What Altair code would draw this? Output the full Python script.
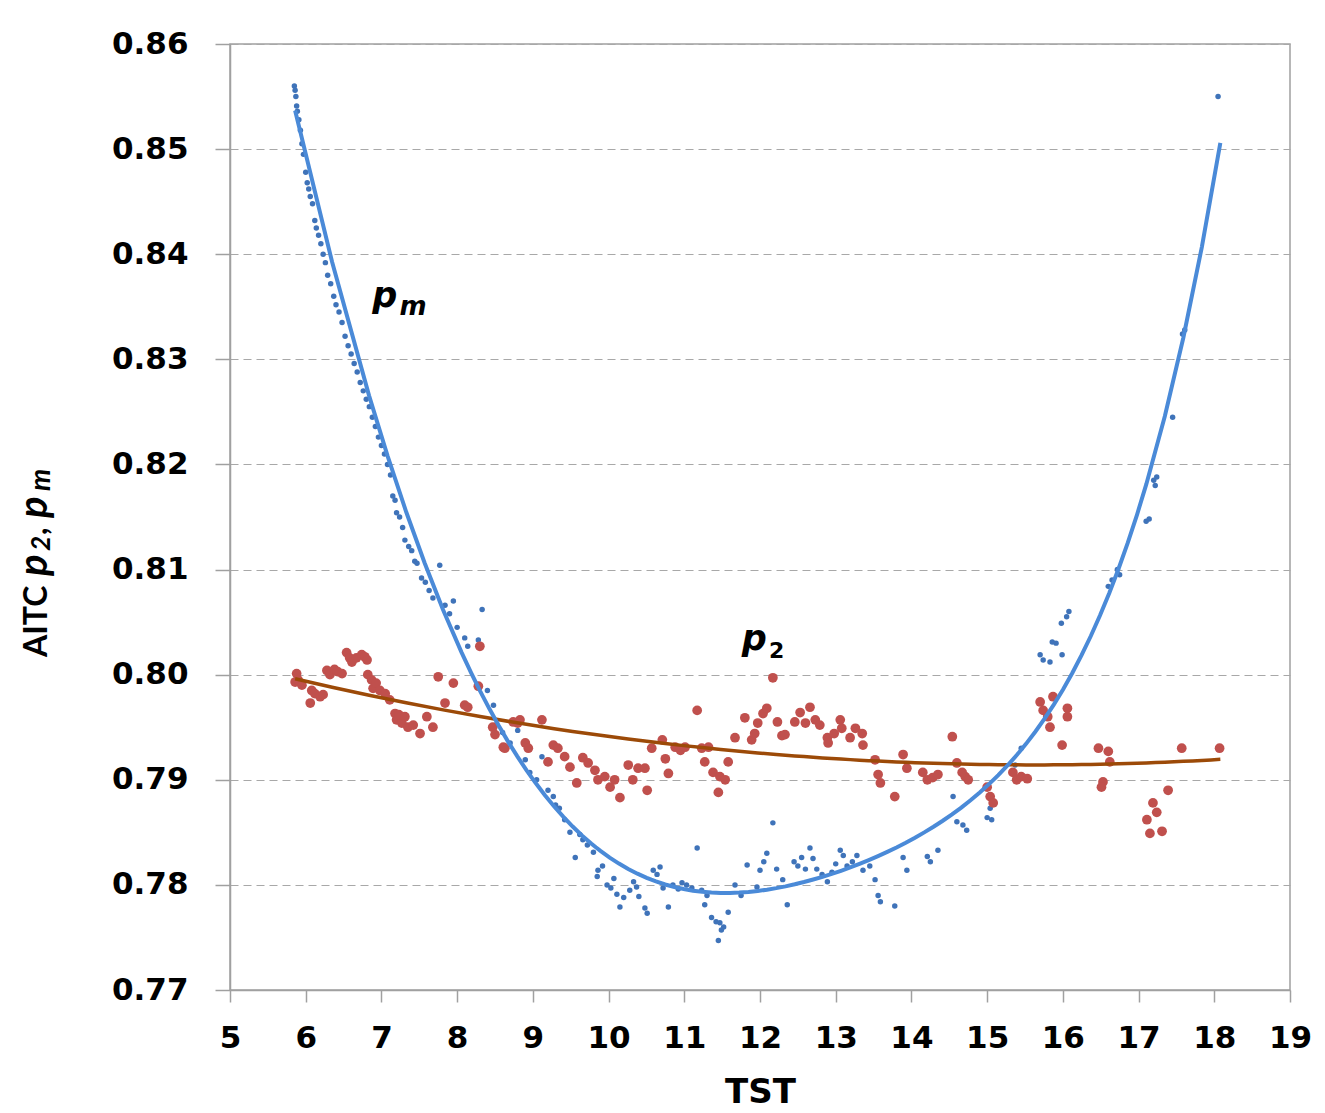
import altair as alt
import pandas as pd

# ---- p_m (AITC) scatter ----
pm_x = [5.85, 5.86, 5.87, 5.88, 5.89, 5.91, 5.93, 5.95, 5.97, 6.00, 6.02, 6.04, 6.06, 6.09, 6.12, 6.14,
        6.17, 6.20, 6.23, 6.26, 6.29, 6.33, 6.37, 6.40, 6.44, 6.48, 6.52, 6.56, 6.60, 6.64, 6.68, 6.72,
        6.76, 6.80, 6.84, 6.88, 6.92, 6.96, 7.00, 7.04, 7.08, 7.12, 7.15, 7.18, 7.20, 7.24, 7.28, 7.31,
        7.36, 7.40, 7.44, 7.47, 7.53, 7.58, 7.63, 7.68, 7.77, 7.84, 7.95, 7.90, 8.00, 8.10, 8.14, 8.28,
        8.33, 8.40, 8.48, 8.50, 8.60, 8.70, 8.80, 8.90, 8.96, 9.05, 9.12, 9.20, 9.27, 9.30, 9.35, 9.42,
        9.49, 9.56, 9.62, 9.66, 9.72, 9.80, 9.86, 9.85, 9.92, 9.98, 10.03, 10.07, 10.11, 10.15, 10.20,
        10.28, 10.33, 10.37, 10.40, 10.48, 10.51, 10.59, 10.64, 10.68, 10.72, 10.79, 10.85, 10.92, 10.97,
        11.03, 11.10, 11.17, 11.23, 11.27, 11.30, 11.36, 11.42, 11.47, 11.49, 11.45, 11.52, 11.58, 11.67,
        11.75, 11.83, 11.96, 12.00, 12.05, 12.09, 12.17, 12.22, 12.30, 12.36, 12.45, 12.50, 12.55, 12.60,
        12.66, 12.70, 12.75, 12.82, 12.89, 12.95, 13.00, 13.06, 13.10, 13.15, 13.22, 13.28, 13.36, 13.45,
        13.52, 13.56, 13.59, 13.78, 13.89, 13.94, 14.21, 14.25, 14.35, 14.55, 14.60, 14.68, 14.73, 15.00,
        15.04, 15.06, 15.37, 15.45, 15.70, 15.74, 15.83, 15.86, 15.99, 15.91, 15.98, 16.05, 16.08, 16.60,
        16.65, 16.72, 16.75, 17.10, 17.14, 17.20, 17.24, 17.22, 17.45, 17.58, 17.61, 18.05]
pm_y = [0.8560, 0.8556, 0.8550, 0.8541, 0.8536, 0.8528, 0.8518, 0.8505, 0.8495, 0.8478, 0.8468, 0.8462,
        0.8455, 0.8448, 0.8432, 0.8425, 0.8418, 0.8410, 0.8400, 0.8392, 0.8380, 0.8372, 0.8360, 0.8352,
        0.8345, 0.8335, 0.8322, 0.8313, 0.8305, 0.8296, 0.8288, 0.8278, 0.8270, 0.8262, 0.8255, 0.8245,
        0.8236, 0.8226, 0.8218, 0.8210, 0.8200, 0.8190, 0.8170, 0.8166, 0.8154, 0.8150, 0.8140, 0.8128,
        0.8122, 0.8118, 0.8108, 0.8106, 0.8092, 0.8088, 0.8080, 0.8073, 0.8104, 0.8066, 0.8070, 0.8058,
        0.8045, 0.8035, 0.8027, 0.8033, 0.8062, 0.7985, 0.7971, 0.7952, 0.7945, 0.7935, 0.7947, 0.7919,
        0.7907, 0.7900, 0.7922, 0.7890, 0.7884, 0.7876, 0.7873, 0.7862, 0.7850, 0.7826, 0.7848, 0.7843,
        0.7838, 0.7831, 0.7814, 0.7808, 0.7818, 0.7800, 0.7797, 0.7806, 0.7791, 0.7779, 0.7788, 0.7795,
        0.7803, 0.7798, 0.7789, 0.7778, 0.7773, 0.7814, 0.7810, 0.7817, 0.7797, 0.7779, 0.7800, 0.7796,
        0.7802, 0.7800, 0.7797, 0.7835, 0.7795, 0.7781, 0.7790, 0.7769, 0.7765, 0.7764, 0.7757, 0.7747,
        0.7760, 0.7774, 0.7800, 0.7790, 0.7819, 0.7798, 0.7814, 0.7822, 0.7830, 0.7859, 0.7815, 0.7805,
        0.7781, 0.7822, 0.7818, 0.7826, 0.7815, 0.7835, 0.7825, 0.7815, 0.7810, 0.7803, 0.7812, 0.7820,
        0.7833, 0.7828, 0.7818, 0.7822, 0.7828, 0.7814, 0.7818, 0.7805, 0.7790, 0.7784, 0.7780, 0.7826,
        0.7814, 0.7827, 0.7822, 0.7833, 0.7884, 0.7860, 0.7857, 0.7852, 0.7864, 0.7873, 0.7862, 0.7914,
        0.7930, 0.8019, 0.8014, 0.8012, 0.8031, 0.8019, 0.8030, 0.8049, 0.8055, 0.8060, 0.8084, 0.8090,
        0.8100, 0.8095, 0.8146, 0.8148, 0.8185, 0.8188, 0.8180, 0.8245, 0.8324, 0.8328, 0.8550]

# ---- p_2 scatter ----
p2_x = [5.86, 5.88, 5.90, 5.95, 6.06, 6.08, 6.12, 6.19, 6.23, 6.28, 6.32, 6.38, 6.42, 6.48, 6.54, 6.58,
        6.61, 6.67, 6.74, 6.78, 6.81, 6.82, 6.87, 6.89, 6.93, 6.98, 7.05, 7.11, 7.18, 7.20, 7.23, 7.27,
        7.31, 7.35, 7.42, 7.51, 7.60, 7.68, 7.75, 7.84, 7.95, 8.10, 8.14, 8.28, 8.30, 8.47, 8.50, 8.61,
        8.63, 8.74, 8.80, 8.83, 8.90, 8.94, 9.12, 9.20, 9.27, 9.33, 9.42, 9.49, 9.58, 9.66, 9.73, 9.82,
        9.86, 9.95, 10.02, 10.08, 10.15, 10.26, 10.32, 10.39, 10.48, 10.51, 10.57, 10.71, 10.75, 10.79,
        10.88, 10.95, 11.01, 11.17, 11.23, 11.27, 11.32, 11.38, 11.47, 11.45, 11.54, 11.58, 11.67, 11.80,
        11.89, 11.93, 11.97, 12.04, 12.09, 12.17, 12.23, 12.29, 12.33, 12.46, 12.53, 12.60, 12.66, 12.73,
        12.79, 12.89, 12.90, 12.98, 13.06, 13.08, 13.19, 13.26, 13.35, 13.36, 13.52, 13.56, 13.59, 13.78,
        13.89, 13.94, 14.15, 14.21, 14.28, 14.35, 14.54, 14.60, 14.67, 14.71, 14.75, 15.00, 15.04, 15.08,
        15.34, 15.39, 15.45, 15.53, 15.70, 15.74, 15.80, 15.87, 15.83, 15.99, 16.06, 16.06, 16.47, 16.60,
        16.62, 16.53, 16.51, 17.11, 17.15, 17.19, 17.24, 17.31, 17.39, 17.57, 18.07]
p2_y = [0.7993, 0.8001, 0.7995, 0.7990, 0.7973, 0.7985, 0.7982, 0.7979, 0.7981, 0.8004, 0.8000, 0.8005,
        0.8003, 0.8001, 0.8021, 0.8016, 0.8012, 0.8016, 0.8019, 0.8017, 0.8014, 0.8000, 0.7995, 0.7987,
        0.7992, 0.7985, 0.7982, 0.7976, 0.7963, 0.7957, 0.7962, 0.7954, 0.7960, 0.7950, 0.7952, 0.7944,
        0.7960, 0.7950, 0.7998, 0.7973, 0.7992, 0.7971, 0.7969, 0.7989, 0.8027, 0.7950, 0.7943, 0.7931,
        0.7930, 0.7955, 0.7954, 0.7957, 0.7935, 0.7930, 0.7957, 0.7917, 0.7933, 0.7930, 0.7922, 0.7912,
        0.7897, 0.7921, 0.7916, 0.7909, 0.7900, 0.7903, 0.7893, 0.7900, 0.7883, 0.7914, 0.7900, 0.7911,
        0.7911, 0.7890, 0.7930, 0.7938, 0.7920, 0.7906, 0.7931, 0.7928, 0.7931, 0.7966, 0.7930, 0.7917,
        0.7931, 0.7907, 0.7903, 0.7888, 0.7900, 0.7917, 0.7940, 0.7959, 0.7938, 0.7944, 0.7954, 0.7963,
        0.7968, 0.7997, 0.7955, 0.7942, 0.7943, 0.7955, 0.7964, 0.7954, 0.7969, 0.7957, 0.7952, 0.7940,
        0.7935, 0.7944, 0.7957, 0.7949, 0.7940, 0.7949, 0.7944, 0.7933, 0.7919, 0.7905, 0.7897, 0.7884,
        0.7924, 0.7911, 0.7907, 0.7900, 0.7902, 0.7905, 0.7941, 0.7916, 0.7907, 0.7903, 0.7900, 0.7893,
        0.7884, 0.7878, 0.7907, 0.7900, 0.7903, 0.7901, 0.7974, 0.7966, 0.7960, 0.7979, 0.7950, 0.7933,
        0.7968, 0.7960, 0.7930, 0.7927, 0.7917, 0.7898, 0.7893, 0.7862, 0.7849, 0.7878, 0.7869, 0.7851,
        0.7890, 0.7930, 0.7930]

# ---- points of the p_m trend line (smoothed by a poly fit) ----
pm_fit_x = [5.86, 5.96, 6.30, 6.70, 7.13, 7.60, 8.00, 8.21, 8.50, 8.96, 9.30, 9.96, 10.62, 11.28,
            11.72, 12.26, 13.15, 14.02, 14.91, 15.35, 15.79, 16.12, 16.72, 17.18, 17.52, 17.80, 18.08]
pm_fit_y = [0.8545, 0.8500, 0.8400, 0.8300, 0.8200, 0.8100, 0.8032, 0.8000, 0.7960, 0.7900, 0.7870,
            0.7833, 0.7805, 0.7791, 0.7789, 0.7797, 0.7817, 0.7848, 0.7893, 0.7918, 0.7955, 0.7998,
            0.8100, 0.8200, 0.8300, 0.8400, 0.8500]

# trend-line extent
fit_extent = [5.86, 18.08]

# annotation labels (data coordinates)
pm_label = {"p": (6.88, 0.8350), "m": (7.24, 0.8342)}
p2_label = {"p": (11.76, 0.8023), "2": (12.12, 0.8016)}

y_ticks = [0.77, 0.78, 0.79, 0.80, 0.81, 0.82, 0.83, 0.84, 0.85, 0.86]
x_ticks = list(range(5, 20))

pm_df = pd.DataFrame({"x": pm_x, "y": pm_y})
p2_df = pd.DataFrame({"x": p2_x, "y": p2_y})
pm_fit = pd.DataFrame({"x": pm_fit_x, "y": pm_fit_y})

xs = alt.Scale(domain=[5, 19], nice=False, zero=False)
ys = alt.Scale(domain=[0.77, 0.86], nice=False, zero=False)

x_axis = alt.Axis(values=x_ticks, grid=False, tickSize=12, labelPadding=21, title="TST",
                  titleFont="DejaVu Sans", titleFontSize=34, titleFontWeight="bold",
                  titleColor="black", titleBaseline="alphabetic", titleY=112,
                  labelOverlap=False, labelFlush=False)
y_axis = alt.Axis(values=y_ticks, format=".2f", grid=True, gridDash=[8, 5], gridColor="#A8A8A8",
                  gridWidth=1.2, tickSize=15, labelPadding=27, title=None, labelOverlap=False,
                  labelFlush=False)


def enc(ch):
    return ch.encode(
        x=alt.X("x:Q", scale=xs, axis=x_axis),
        y=alt.Y("y:Q", scale=ys, axis=y_axis),
    )


blue_pts = enc(alt.Chart(pm_df).mark_circle(size=30, color="#3F73B9", opacity=1))
red_pts = enc(alt.Chart(p2_df).mark_circle(size=95, color="#C0504D", opacity=1))
brown_line = enc(alt.Chart(p2_df).transform_regression(
    "x", "y", method="poly", order=2, extent=fit_extent).mark_line(
    color="#9C4A08", strokeWidth=3.5))
blue_line = enc(alt.Chart(pm_fit).transform_regression(
    "x", "y", method="poly", order=6, extent=fit_extent).mark_line(
    color="#4A8AD8", strokeWidth=4))

one = pd.DataFrame({"a": [0]})


def ann(text, pos, size, style="italic"):
    df = pd.DataFrame({"x": [pos[0]], "y": [pos[1]]})
    return enc(alt.Chart(df).mark_text(text=text, font="DejaVu Sans", fontSize=size,
                                       fontWeight="bold", fontStyle=style, align="left",
                                       baseline="alphabetic", color="black"))


anns = [
    ann("p", pm_label["p"], 35),
    ann("m", pm_label["m"], 26),
    ann("p", p2_label["p"], 35),
    ann("2", p2_label["2"], 22, style="normal"),
]


# y-axis title pieces (rotated), pixel offsets relative to the plot area
def ytitle(text, ypix, size, style="normal", xpix=-183):
    return alt.Chart(one).mark_text(text=text, font="Lato", fontSize=size, fontWeight="bold",
                                    fontStyle=style, angle=270, align="left",
                                    baseline="alphabetic", color="black").encode(
        x=alt.value(xpix), y=alt.value(ypix))


ytitles = [
    ytitle("AITC", 613, 32),
    ytitle("p", 532, 40, "italic"),
    ytitle("2", 507, 26, "italic", -180),
    ytitle(",", 491, 32),
    ytitle("p", 474, 40, "italic"),
    ytitle("m", 447, 28, "italic", -180),
]

chart = alt.layer(blue_pts, red_pts, brown_line, blue_line, *anns, *ytitles).properties(
    width=1060, height=946,
    autosize=alt.AutoSizeParams(type="none"),
    padding={"left": 222, "top": 36, "right": 26, "bottom": 122},
).configure_axis(
    domainColor="#A0A0A0", tickColor="#A0A0A0", domainWidth=1.5, tickWidth=1.5,
    labelFont="DejaVu Sans", labelFontWeight="bold", labelFontSize=31, labelColor="black",
).configure_view(stroke="#A0A0A0", strokeWidth=1.5)

chart.save("out.html", embed_options={"renderer": "svg", "actions": False})
